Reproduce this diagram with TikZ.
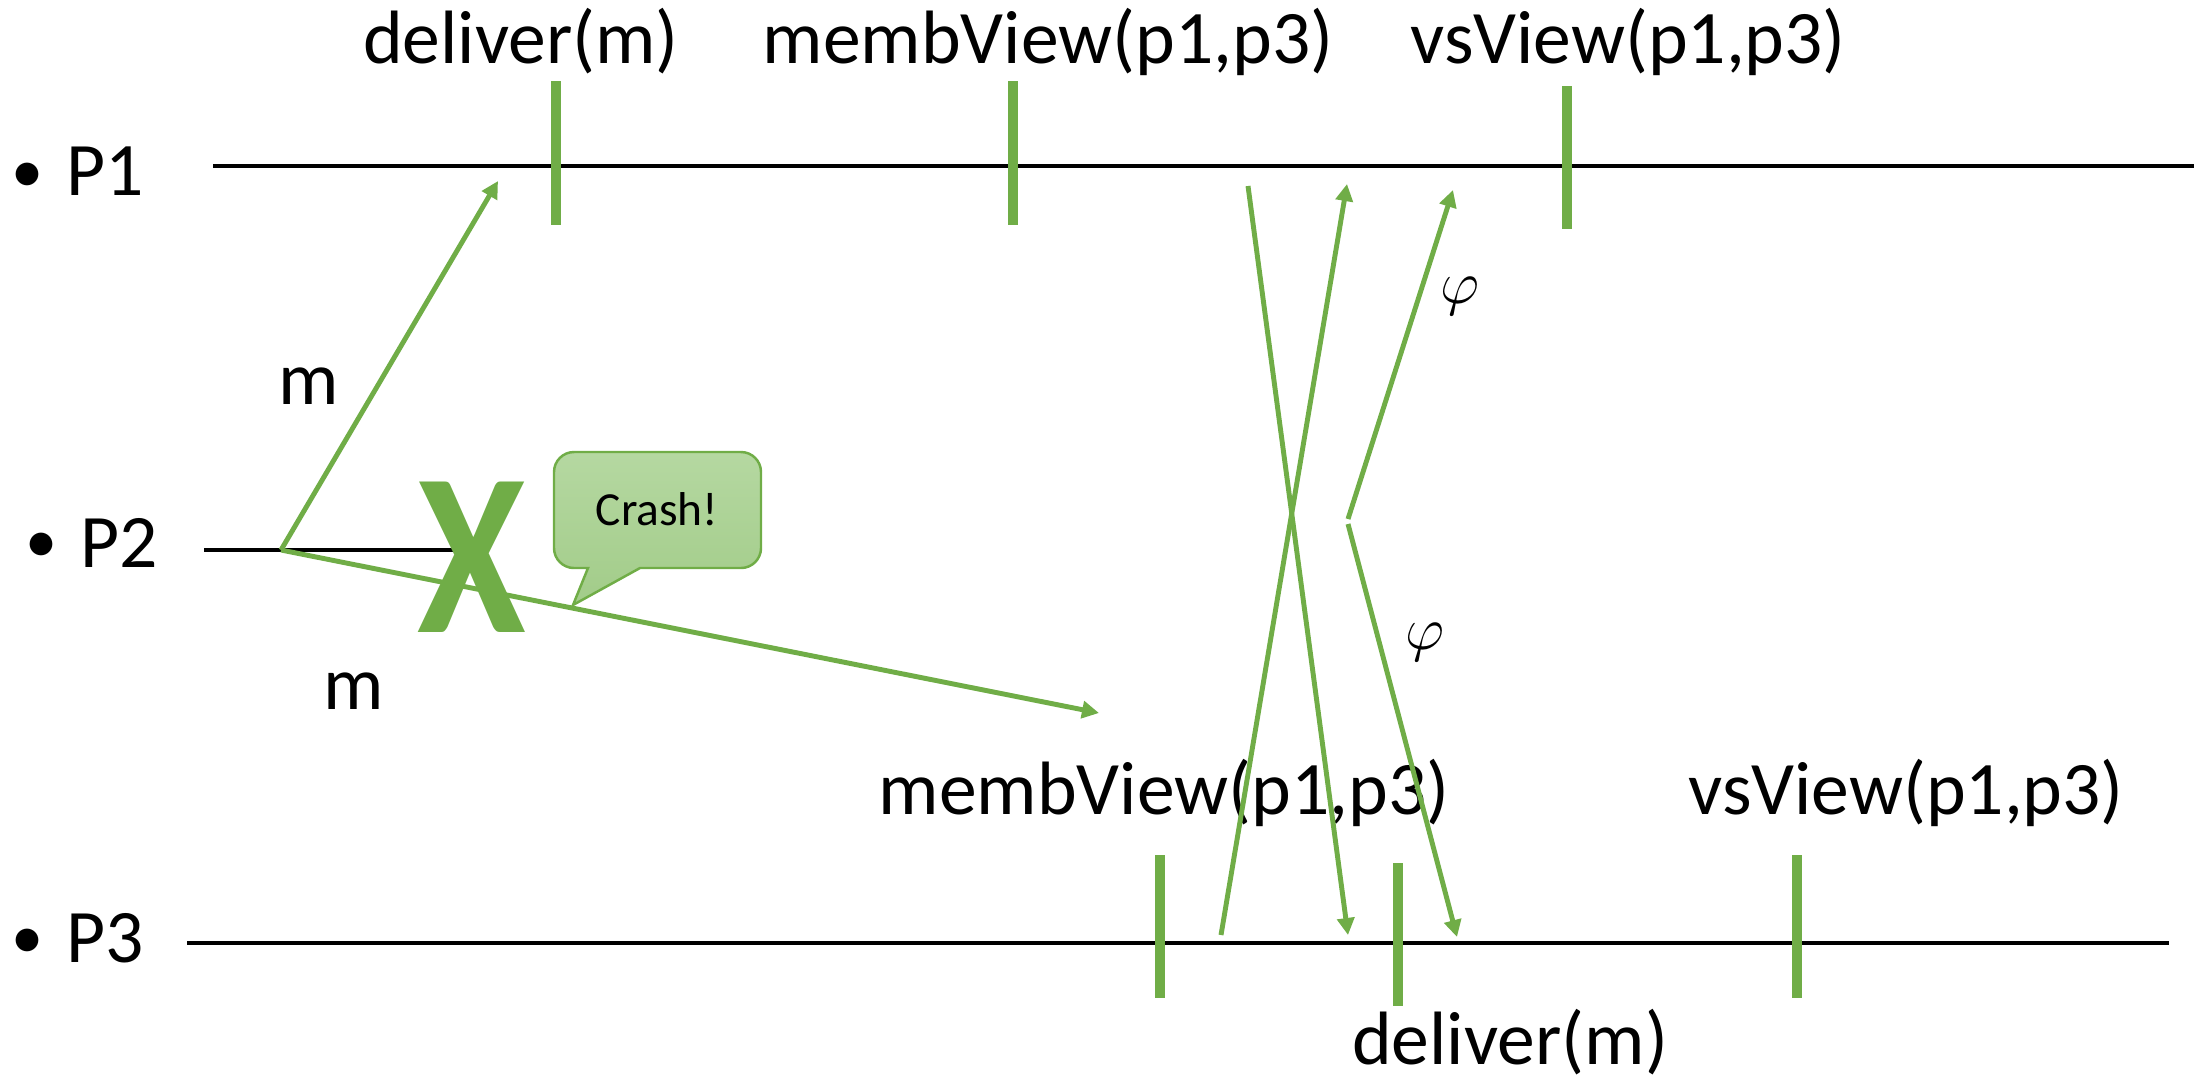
\documentclass[tikz,border=0pt]{standalone}
\usepackage{fontspec}
\setmainfont{Carlito}
\usetikzlibrary{arrows.meta}
\definecolor{vsgreen}{HTML}{70AD47}
\definecolor{bubbletop}{HTML}{B5D8A1}
\definecolor{bubblebot}{HTML}{A2CC89}
\tikzset{
  proc/.style={line width=1.1pt, black},
  tick/.style={line width=3.1pt, vsgreen},
  msg/.style={line width=1.4pt, vsgreen, -{Triangle[length=0.17cm,width=0.17cm]}},
  lbl/.style={font=\fontsize{21.5}{25}\selectfont, inner sep=0pt},
}
\begin{document}
\begin{tikzpicture}[x=0.01cm, y=-0.01cm]
			%%%%% START %%%%%
			\useasboundingbox (0,0) rectangle (2201,1087);
			
			% process lines
			\node[lbl, scale=0.85] (b1) at (28,178) {•};
			\node[lbl, anchor=base west] (n1) at (66,195) {P1};
			\node[lbl, scale=0.85] (b2) at (42,548) {•};
			\node[lbl, anchor=base west] (n2) at (80,567) {P2};
			\node[lbl, scale=0.85] (b3) at (28,944) {•};
			\node[lbl, anchor=base west] (n3) at (66,962) {P3};
			
			\draw[proc] (213,166) -- (2194,166);
			\draw[proc] (204,550) -- (456,550);
			\draw[proc] (187,943) -- (2169,943);
			
			% events on P1
			\draw[tick] (556,81) -- (556,225);
			\draw[tick] (1013,81) -- (1013,225);
			\draw[tick] (1567,86) -- (1567,229);
			\node[lbl, anchor=base] (d1) at (521,63) {deliver(m)};
			\node[lbl, anchor=base] (mv1) at (1048,63) {membView(p1,p3)};
			\node[lbl, anchor=base] (vs1) at (1628,63) {vsView(p1,p3)};
			
			% events on P3
			\draw[tick] (1160,855) -- (1160,998);
			\draw[tick] (1398,863) -- (1398,1006);
			\draw[tick] (1797,855) -- (1797,998);
			\node[lbl, anchor=base] (mv3) at (1164,814) {membView(p1,p3)};
			\node[lbl, anchor=base] (vs3) at (1906,814) {vsView(p1,p3)};
			\node[lbl, anchor=base] (d3) at (1510,1064) {deliver(m)};
			
			% multicast of m by P2
			\coordinate (send) at (281,550);
			\coordinate (m1) at (498,181);
			\coordinate (m3) at (1099,713);
			\draw[msg] (send) -- (m1);
			\draw[msg] (send) -- (m3);
			\node[lbl, anchor=base] (lm1) at (309,404) {m};
			\node[lbl, anchor=base] (lm3) at (354,709) {m};
			
			% crash of P2
			\node[text=vsgreen, inner sep=0pt, xscale=0.85, font=\fontsize{66}{66}\selectfont\bfseries] (crash) at (472,557) {X};
			\draw[vsgreen, line width=0.7pt, top color=bubbletop, bottom color=bubblebot]
				(574,452) -- (741,452) arc (-90:0:20) -- (761,548) arc (0:90:20)
				-- (640,568) -- (573,605) -- (588,568) -- (574,568) arc (90:180:20)
				-- (554,472) arc (180:270:20) -- cycle;
			\node[inner sep=0pt, font=\fontsize{13.5}{16}\selectfont] (bubble) at (657,509) {Crash!};
			
			% view change messages
			\coordinate (a1) at (1248,186);
			\coordinate (a3) at (1348,935);
			\coordinate (b3s) at (1221,935);
			\coordinate (b1r) at (1347,184);
			\draw[msg] (a1) -- (a3);
			\draw[msg] (b3s) -- (b1r);
			
			% flush messages
			\coordinate (f1) at (1348,519);
			\coordinate (f2) at (1348,524);
			\coordinate (f1r) at (1453,190);
			\coordinate (f3r) at (1457,937);
			\draw[msg] (f1) -- (f1r);
			\draw[msg] (f2) -- (f3r);
			\node[font=\fontsize{16}{18}\selectfont] (phi1) at (1460,296) {$\varphi$};
			\node[font=\fontsize{16}{18}\selectfont] (phi3) at (1425,642) {$\varphi$};
			%%%%% END %%%%%
\end{tikzpicture}
\end{document}
